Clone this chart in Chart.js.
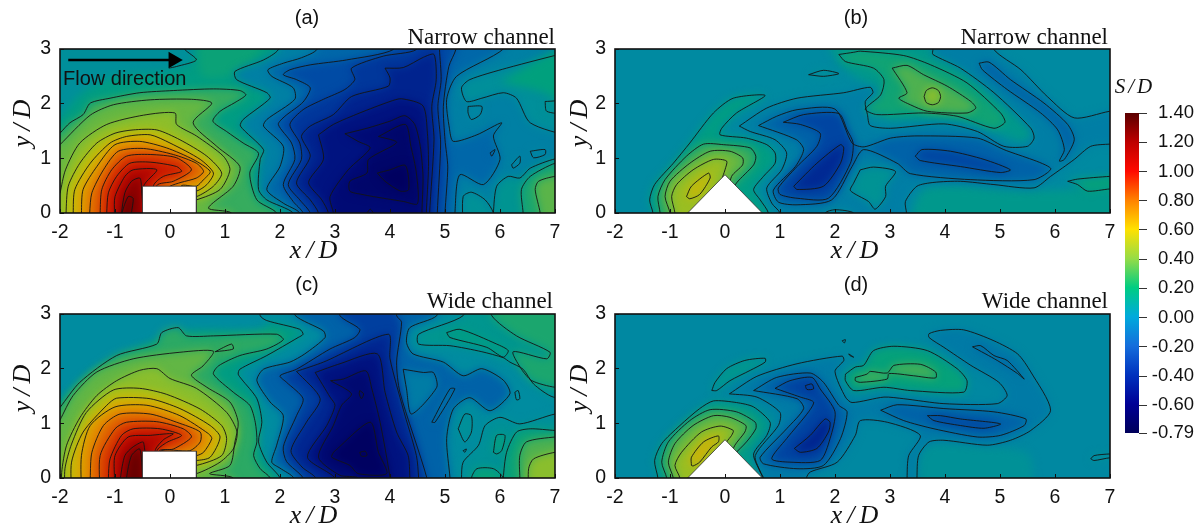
<!DOCTYPE html>
<html>
<head>
<meta charset="utf-8">
<title>S/D contours</title>
<script src="https://cdn.jsdelivr.net/npm/chart.js@4"></script>
<style>
html,body{margin:0;padding:0;background:#fff;width:1200px;height:530px;overflow:hidden}
canvas{position:absolute;display:block}
</style>
</head>
<body>
<canvas id="panelA" width="565" height="265" style="left:0;top:0"></canvas>
<canvas id="panelB" width="555" height="265" style="left:565px;top:0"></canvas>
<canvas id="panelC" width="565" height="265" style="left:0;top:265px"></canvas>
<canvas id="panelD" width="555" height="265" style="left:565px;top:265px"></canvas>
<canvas id="colorBar" width="84" height="400" style="left:1110px;top:60px"></canvas>
<script>
// axis ticks
const xTicks = [-2, -1, 0, 1, 2, 3, 4, 5, 6, 7];
const yTicks = [0, 1, 2, 3];
const barTicks = [1.4, 1.2, 1.0, 0.8, 0.6, 0.4, 0.2, 0, -0.2, -0.4, -0.6, -0.79];

// colour bar as printed
const barValues = [-0.79, -0.6, -0.4, -0.2, 0, 0.2, 0.4, 0.6, 0.8, 1.0, 1.2, 1.4];
const barColors = ['#00005a', '#000096', '#0032be', '#146edc', '#00aadc', '#00cd82', '#96dc46', '#ffe100', '#ff8200', '#ff0a00', '#be0000', '#5a0000'];

// the same map as it looks inside the plots (darker, shaded)
const fieldValues = [-0.79, -0.6, -0.45, -0.3, -0.15, 0, 0.12, 0.25, 0.4, 0.55, 0.68, 0.8, 0.95, 1.1, 1.25, 1.4];
const fieldColors = [[0,0,95],[0,15,125],[0,45,150],[0,75,165],[0,110,170],[0,140,160],[0,160,125],[70,175,85],[130,190,50],[190,190,10],[225,165,0],[225,110,0],[215,55,0],[195,10,0],[150,0,0],[100,0,0]];

// obstacles and arrow
const rectX = [-0.5, -0.5, 0.48, 0.48, -0.5], rectY = [-0.1, 0.49, 0.49, -0.1, -0.1];
const triX = [-0.68, 0, 0.68, -0.68], triY = [0, 0.7, 0, 0];
const arrowX = [-1.85, 0.05], arrowY = [2.8, 2.8];

// panel (a) narrow channel, rectangle
const aShadeV = [0.1, 0.02, 0.14];
const aShades = [
  [-3,-1, 8,-1, 8,4, -3,4],
  [-2.4,3.3, 0.3,3.3, 0.45,2.8, 0,2.6, -1,2.5, -1.6,2.2, -2.4,1.4],
  [0.5,3.3, 1.8,3.3, 1.3,2.6, 0.6,2.5]
];
const aV = [-0.06,-0.18,-0.3,-0.4,-0.5,-0.58,-0.66,-0.72,-0.79,0.02,-0.02,0.04,-0.2,-0.02,-0.02,0.03,0.05,0.17,0.3,
  0.22,0.33,0.43,0.53,0.63,0.73,0.83,0.95,1.05,1.16,1.28,1.39,null,null];
const aPaths = [
  [1.97,3.3, 1.97,2.99, 1.7,2.8, 1.18,2.59, 1.21,2.44, 1.76,2.2, 1.82,2.1, 1.33,1.71, 1.28,1.59, 1.7,1.16, 1.64,0.98, 1.61,0.43, 1.76,0.24, 2.24,0, 2.24,-0.3, 7.4,-0.3, 7.4,3.3],
  [2.67,3.3, 2.67,2.99, 2.39,2.84, 2.06,2.74, 1.78,2.62, 1.85,2.5, 2.24,2.29, 2.27,2.08, 1.76,1.71, 1.7,1.59, 2.06,1.22, 2,0.85, 1.76,0.43, 2.06,0.18, 2.36,0, 2.36,-0.3, 5.18,-0.3, 5.18,0, 5.27,0.7, 5.7,0.52, 6,0.98, 5.88,1.41, 6.03,1.65, 5.58,1.43, 5.15,1.31, 5.08,1.55, 5.03,2.08, 5.21,2.5, 6.06,3, 6.06,3.3],
  [4.06,3.3, 4.06,2.99, 3.21,2.8, 2.55,2.71, 2.18,2.62, 2.06,2.53, 2.3,2.44, 2.55,2.29, 2.42,2.03, 2.09,1.77, 1.97,1.62, 2.21,1.28, 2.27,0.98, 2.06,0.52, 2.24,0.21, 2.42,0, 2.42,-0.3, 5,-0.3, 5,0, 5.05,0.84, 5,1.34, 4.97,1.95, 5.07,2.68, 5.2,3, 5.2,3.3],
  [4.48,3.3, 4.48,2.99, 3.88,2.87, 3.3,2.65, 3.36,2.44, 3.18,2.26, 2.79,2.08, 2.42,1.89, 2.18,1.62, 2.36,1.28, 2.39,0.98, 2.15,0.52, 2.36,0.24, 2.55,0, 2.55,-0.3, 4.86,-0.3, 4.86,0, 4.92,1.28, 4.87,1.95, 4.93,2.44, 4.9,2.99, 4.9,3.3],
  [3.91,2.65, 4.24,2.66, 4.61,2.85, 4.8,2.9, 4.84,2.44, 4.76,1.95, 4.8,1.34, 4.72,0, 4.72,-0.3, 2.7,-0.3, 2.7,0, 2.55,0.24, 2.3,0.55, 2.55,1.04, 2.39,1.4, 2.55,1.59, 2.97,1.8, 3.3,2.13, 3.97,2.32, 4,2.47],
  [2.7,1.43, 2.97,1.62, 3.45,1.83, 4,2.04, 4.21,2.09, 4.6,1.96, 4.68,1.46, 4.7,0.85, 4.66,0, 4.66,-0.3, 2.88,-0.3, 2.88,0, 2.76,0.24, 2.52,0.56, 2.79,0.98],
  [3.18,1.45, 3.58,1.55, 4,1.68, 4.27,1.78, 4.45,1.62, 4.55,1.22, 4.6,0.67, 4.58,0, 4.58,-0.3, 2.97,-0.3, 2.97,0, 2.91,0.3, 3.24,0.79, 3.64,1.19, 3.42,1.31],
  [3.79,1.4, 4.28,1.62, 4.38,1.22, 4.48,0.73, 4.5,0.17, 4.25,0.21, 3.94,0.26, 3.7,0.3, 3.49,0.34, 3.27,0.4, 3.27,0.58, 3.58,0.73, 3.61,0.98, 4.12,1.29],
  [3.77,0.73, 4,0.79, 4.28,0.87, 4.34,0.43, 4.19,0.4, 3.91,0.58],
  [7.3,2.96, 6.12,2.65, 5.45,2.44, 5.3,2.29, 5.39,2.04, 5.67,2.1, 6.06,2.2, 6.3,2.1, 6.55,1.65, 7.3,1.4, 7.6,1.4, 7.6,3.3, 7.3,3.3],
  [5.42,1.95, 5.67,1.95, 5.64,1.8, 5.48,1.71, 5.42,1.83],
  [6.82,2.04, 7.2,2.04, 7.2,1.83, 6.85,1.86],
  [5.82,1.1, 5.91,1.16, 5.85,1.04],
  [6.55,1.13, 6.82,1.16, 6.82,1.07, 6.61,1.01],
  [6.21,0.88, 6.36,1.04, 6.36,0.91, 6.24,0.82],
  [5.33,-0.3, 5.33,0.3, 5.48,0.38, 5.73,0.24, 5.88,0, 5.88,-0.3],
  [5.88,-0.3, 5.88,0, 5.94,0.49, 6.15,0.67, 6.36,0.64, 6.55,0.82, 7,0.99, 7.3,1, 7.3,-0.3],
  [6.42,-0.3, 6.42,0, 6.39,0.43, 6.55,0.67, 7,0.91, 7.3,0.93, 7.3,-0.3],
  [6.73,-0.3, 6.73,0, 6.64,0.43, 6.7,0.58, 7,0.67, 7.3,0.67, 7.3,-0.3],
  [-2,1.46, -1.82,1.65, -1.58,1.8, -1.45,2.01, -1.09,2.1, -0.55,2.2, 0.06,2.24, 0.79,2.27, 1.27,2.24, 1.38,2.16, 1.18,2.02, 0.91,1.86, 0.78,1.68, 1.03,1.49, 1.33,1.28, 1.61,1.09, 1.45,0.73, 1.58,0.24, 1.94,0, 1.94,-0.3, -2.3,-0.3, -2.3,1.46],
  [-2,1.25, -1.45,1.79, -1.03,1.98, -0.36,2.07, 0.39,2.08, 0.76,2.01, 0.42,1.65, 0.85,1.22, 1.27,0.85, 1.15,0.49, 0.7,0.09, 1.12,0, 1.12,-0.3, -2.3,-0.3, -2.3,1.25],
  [-2,0.36, -1.9,0.79, -1.64,1.28, -1.15,1.62, -0.48,1.79, 0.09,1.83, 0.12,1.62, 0.48,1.41, 0.97,1.04, 1.09,0.79, 0.91,0.43, 0.48,0.24, 0.2,0.2, 0.2,-0.3, -2.3,-0.3, -2.3,0.36],
  [-1.89,-0.3, -1.89,0, -1.85,0.49, -1.64,0.91, -1.33,1.28, -1,1.46, -0.67,1.52, -0.24,1.52, 0.18,1.34, 0.67,1.04, 0.94,0.73, 0.79,0.49, 0.48,0.3, 0.2,0.3, 0.2,-0.3],
  [-1.76,-0.3, -1.76,0, -1.73,0.43, -1.45,0.91, -1.09,1.28, -0.79,1.4, -0.36,1.43, 0,1.28, 0.55,0.98, 0.79,0.73, 0.67,0.52, 0.48,0.4, 0.2,0.4, 0.2,-0.3],
  [-1.61,-0.3, -1.61,0, -1.58,0.43, -1.33,0.85, -1,1.25, -0.55,1.31, -0.06,1.19, 0.42,0.98, 0.73,0.76, 0.61,0.61, 0.48,0.49, 0.2,0.49, 0.2,-0.3],
  [-1.46,-0.3, -1.46,0, -1.42,0.37, -1.21,0.79, -0.94,1.13, -0.48,1.18, 0.06,1.07, 0.48,0.91, 0.61,0.76, 0.48,0.64, 0.2,0.56, 0,0.49, -0.1,0.4, -0.1,-0.3],
  [-1.27,-0.3, -1.27,0, -1.24,0.43, -1.06,0.79, -0.79,1.04, -0.36,1.07, 0.12,1.01, 0.39,0.79, 0.06,0.58, -0.24,0.5, -0.24,-0.3],
  [-1.15,-0.3, -1.15,0, -1.12,0.37, -0.97,0.67, -0.73,0.91, -0.36,0.93, 0.12,0.85, 0.21,0.76, -0.12,0.67, -0.3,0.5, -0.3,-0.3],
  [-1.01,-0.3, -1.01,0, -1,0.3, -0.82,0.67, -0.67,0.79, -0.24,0.79, -0.48,0.49, -0.48,-0.3],
  [-0.88,-0.3, -0.88,0, -0.82,0.37, -0.7,0.58, -0.55,0.64, -0.52,0.49, -0.52,-0.3],
  [-0.87,-0.3, -0.87,0, -0.76,0.3, -0.67,0.27, -0.7,0, -0.7,-0.3],
  [0.27,3.05, 0.27,2.99, 0.48,2.8, 0.12,2.68, -0.02,2.65],
  [3.58,0, 3.64,0.07, 3.7,0]
];
const aTintV = [0.12];
const aTints = [[6,2.4, 7.4,3.1, 7.4,1.9, 6.8,2.2]];

// panel (b) narrow channel, triangle
const bShadeV = [-0.01, 0.07, 0.07, 0.07];
const bShades = [
  [-3,-1, 8,-1, 8,4, -3,4],
  [3.3,-0.3, 3.6,0.42, 4.22,0.5, 5.1,0.42, 6.1,0.42, 7.4,0.5, 7.4,-0.3],
  [1.79,3.3, 3.75,3.3, 3.75,2.9, 4.2,2.3, 3,2.2, 2.1,2.7],
  [2.9,1.7, 4.5,1.65, 5.4,1.3, 5.6,1.5, 4.3,2.7, 3.8,3, 2.7,3, 2.9,2.3]
];
const bV = [0.1,-0.07,0.01,0.15,0.27,0.42,0.03,0.22,0.34,0.46,0.58,-0.2,-0.33,-0.47,-0.33,-0.2,0.04,0.13];
const bPaths = [
  [-1.31,-0.3, -1.31,0, -1.37,0.24, -1.28,0.52, -0.94,0.91, -0.64,1.28, -0.21,1.83, 0.15,2.1, 0.73,2.15, 0.21,1.83, -0.06,1.55, -0.09,1.43, 0.39,1.37, 0.76,1.25, 0.91,1.1, 0.91,0.91, 0.7,0.67, 0.52,0.43, 0.64,0.24, 0.79,0, 0.79,-0.3],
  [0.26,1.59, 0.76,1.92, 1.31,2.1, 2.16,2.2, 2.64,2.3, 2.69,2.2, 2.55,2.04, 2.59,1.8, 2.64,1.6, 3.01,1.55, 3.98,1.63, 4.59,1.49, 5.07,1.22, 5.5,1.22, 5.62,1.37, 5.56,1.55, 4.89,2.2, 4.28,2.65, 3.78,2.9, 3.78,2.99, 3.78,3.3, 4.89,3.3, 4.89,2.99, 5.38,2.62, 5.86,2.13, 6.35,1.74, 6.99,1.86, 7.4,1.9, 7.4,1.27, 7,1.26, 6.65,1.22, 6.35,0.98, 5.92,0.67, 5.62,0.46, 4.89,0.52, 4.28,0.58, 3.8,0.56, 3.49,0.49, 3.28,0.21, 3.3,0, 3.3,-0.3, 1,-0.3, 1,0, 0.85,0.18, 0.76,0.46, 1.03,0.79, 1.12,1.1, 0.91,1.34, 0.46,1.49],
  [1.82,-0.2, 1.82,0, 2,0.06, 2.34,0, 2.34,-0.2],
  [2.07,2.9, 2.34,2.94, 2.46,2.96, 3.25,2.88, 3.74,2.71, 4.4,2.38, 5.01,1.83, 5.09,1.66, 4.89,1.55, 4.22,1.77, 3.61,1.83, 2.76,1.8, 2.55,1.9, 2.83,2.16, 2.89,2.44, 2.7,2.65, 2.19,2.77],
  [3.04,2.65, 3.31,2.7, 3.61,2.53, 4.04,2.32, 4.47,2.04, 4.56,1.92, 4.4,1.83, 3.68,1.86, 3.37,1.98, 3.16,2.1, 3.31,2.2],
  [3.62,2.13, 3.66,2.24, 3.77,2.29, 3.88,2.24, 3.92,2.13, 3.88,2.02, 3.77,1.98, 3.66,2.02],
  [1.52,2.53, 1.79,2.61, 2.07,2.55, 1.79,2.5],
  [-1.18,-0.3, -1.18,0, -1.22,0.3, -1.09,0.61, -0.7,1.04, -0.39,1.26, -0.03,1.25, 0.46,1.19, 0.56,1.04, 0.52,0.88, 0.21,0.55, 0,0.2, -0.5,-0.3],
  [-1,-0.3, -1,0, -1.09,0.3, -1,0.58, -0.64,0.91, -0.27,1.13, 0.09,1.13, 0.32,1.01, 0.32,0.88, 0.12,0.67, 0,0.2, -0.5,-0.3],
  [-0.91,-0.3, -0.91,0, -0.97,0.3, -0.88,0.52, -0.58,0.79, -0.21,0.98, 0.03,0.95, 0,0.79, -0.03,0.7, -0.2,0.2, -0.5,-0.3],
  [-0.7,0.3, -0.61,0.49, -0.3,0.73, -0.27,0.64, -0.46,0.34, -0.64,0.26],
  [0.61,1.6, 0.94,1.77, 1.31,1.89, 2,1.9, 2.31,1.28, 2.53,1.21, 3.01,1.37, 3.49,1.41, 4.59,1.37, 5.07,1.16, 5.92,0.82, 5.62,0.61, 4.47,0.61, 3.37,0.72, 3.13,0.91, 2.52,1.16, 2.31,0.85, 1.94,0.24, 1.31,0.15, 0.97,0.2, 0.88,0.42, 1.28,0.85, 1.43,1.16, 1.3,1.34],
  [1.06,1.66, 1.43,1.8, 2.07,1.82, 2.22,1.52, 2.33,1.28, 2.28,0.91, 1.88,0.27, 1.31,0.27, 1,0.34, 0.97,0.46, 1.31,0.85, 1.67,1.22, 1.73,1.46, 1.37,1.62],
  [1.25,0.49, 1.67,0.91, 2.1,1.25, 2.16,1.19, 2.1,0.91, 1.79,0.49, 1.31,0.43],
  [3.46,1.04, 3.58,1.16, 4.1,1.13, 4.71,0.98, 5.19,0.79, 5.01,0.74, 4.28,0.85, 3.55,0.96],
  [4.62,2.74, 4.8,2.76, 5.19,2.44, 5.8,2.01, 6.23,1.62, 6.35,1.34, 6.17,0.98, 6.08,0.95, 6.17,1.16, 6.05,1.52, 5.74,1.83, 5.13,2.26, 4.68,2.62],
  [2.46,0.79, 2.7,0.84, 3.1,0.76, 2.92,0.49, 2.92,0.3, 2.73,0.07, 2.61,0.21, 2.28,0.41, 2.34,0.55],
  [6.23,0.58, 6.41,0.62, 7,0.67, 7.3,0.67, 7.3,0.44, 7,0.44, 6.59,0.4, 6.41,0.52]
];
const bTintV = [];
const bTints = [];

// panel (c) wide channel, rectangle
const cShadeV = [0.1, 0];
const cShades = [
  [-3,-1, 8,-1, 8,4, -3,4],
  [-2.4,3.3, 1.8,3.3, 1.7,2.75, 0.3,2.7, -0.3,2.5, -1.3,2, -2.4,1.2]
];
const cV = [0,-0.2,-0.36,-0.48,-0.58,-0.68,-0.78,null,null,-0.08,-0.1,0.06,0.17,0.1,0.03,0.14,0.13,0.27,0.42,0.13,0.03,null,null,
  0.2,0.32,0.25,0.42,0.52,0.62,0.72,0.82,0.93,1.04,1.15,1.27,1.39];
const cPaths = [
  [1.64,3.3, 1.64,2.97, 1.76,2.88, 2.36,2.72, 2.42,2.63, 2.33,2.57, 1.76,2.24, 1.27,1.99, 1.24,1.9, 1.3,1.81, 1.58,1.45, 1.67,1.02, 1.61,0.66, 1.76,0.29, 2,0, 2,-0.3, 7.4,-0.3, 7.4,3.3],
  [2.27,3.3, 2.27,2.98, 2.79,2.69, 2.82,2.57, 2.45,2.27, 2.18,2.12, 1.7,1.99, 1.58,1.78, 1.82,1.39, 2.06,1.14, 1.94,0.6, 1.85,0.29, 2,0.18, 2.25,0, 2.25,-0.3, 5.09,-0.3, 5.09,0, 5.03,0.72, 5.15,1.26, 5.45,1.47, 5.82,1.23, 6.18,1.54, 6.06,1.79, 5.67,2, 5.33,1.87, 4.97,2.12, 4.42,2.27, 4.3,2.48, 4.36,2.75, 4.85,2.97, 4.85,3.3],
  [3.09,3.3, 3.09,2.97, 3.45,2.72, 3.36,2.57, 2.91,2.36, 2.3,1.99, 2,1.87, 2.12,1.75, 2.42,1.45, 2.3,1.14, 2.06,0.57, 2.12,0.3, 2.42,0, 2.42,-0.3, 4.67,-0.3, 4.67,0, 4.18,1.57, 4.12,2.12, 4.21,2.85, 4.12,2.97, 4.12,3.3],
  [2.3,1.95, 2.79,2.12, 3.97,2.63, 4,2.18, 4.24,1.26, 4.48,0.41, 4.52,0, 4.52,-0.3, 2.65,-0.3, 2.65,0, 2.4,0.2, 2.2,0.5, 2.48,1.02, 2.73,1.45],
  [2.64,1.93, 3.09,2.09, 3.77,2.27, 3.91,1.57, 4.12,0.84, 4.33,0.41, 4.36,0, 4.36,-0.3, 3,-0.3, 3,0, 2.5,0.38, 2.85,0.96, 3,1.33, 2.91,1.48],
  [2.92,1.78, 3.15,1.81, 3.56,1.96, 3.67,1.63, 3.82,1.02, 4,0, 4,-0.3, 3.42,-0.3, 3.42,0, 3.09,0.05, 2.7,0.38, 2.97,0.96, 3.12,1.33, 3.3,1.54],
  [2.97,0.47, 3.64,1.02, 3.79,0.47, 3.94,0.08, 3.42,0.08, 3.27,0.23, 2.94,0.38],
  [3.45,1.6, 3.52,1.54, 3.48,1.45, 3.44,1.54, 3.45,1.6],
  [3.45,0.47, 3.55,0.49, 3.58,0.41, 3.48,0.4, 3.45,0.47],
  [4.24,1.99, 4.61,1.93, 4.79,1.93, 4.85,1.66, 4.39,1.17, 4.3,1.63],
  [4.76,1.02, 5.09,1.63, 5.18,1.63, 4.82,1.02],
  [5.33,3.3, 5.33,2.97, 4.52,2.63, 4.52,2.45, 5.09,2.42, 5.67,2.31, 6.06,2.2, 6.18,2.12, 6.42,1.99, 6.61,1.72, 6.97,1.48, 7.5,1.48, 7.5,3.3],
  [5.85,3.3, 5.85,2.97, 6.3,2.6, 6.91,2.3, 6.85,2.18, 6.24,2.31, 6.39,1.99, 6.58,1.78, 7,1.66, 7.5,1.66, 7.5,3.3],
  [5.03,2.66, 5.27,2.72, 5.94,2.45, 6.15,2.33, 6.06,2.21, 5.76,2.39, 5.09,2.57],
  [5.3,-0.3, 5.3,0, 5.33,0.29, 5.61,0.6, 5.73,0.96, 6,1.11, 6.36,0.99, 7,1.17, 7.3,1.17, 7.3,-0.3],
  [6.06,-0.3, 6.06,0, 6.12,0.47, 6.3,0.84, 6.55,0.9, 7,0.87, 7.3,0.87, 7.3,-0.3],
  [5.48,-0.3, 5.48,0, 5.58,0.17, 5.88,0.17, 6.06,0, 6.06,-0.3],
  [6.36,-0.3, 6.36,0, 6.36,0.41, 6.48,0.66, 7,0.75, 7.3,0.75, 7.3,-0.3],
  [6.52,-0.3, 6.52,0.17, 6.61,0.35, 7,0.47, 7.3,0.47, 7.3,-0.3],
  [5.88,0.47, 5.94,0.78, 6.09,0.78, 6.03,0.5, 5.94,0.44],
  [5.24,0.9, 5.36,1.17, 5.48,1.14, 5.48,0.84, 5.36,0.66],
  [5.33,0.5, 5.39,0.53, 5.36,0.47, 5.33,0.5],
  [6.27,1.57, 6.33,1.6, 6.36,1.45, 6.3,1.43, 6.27,1.57],
  [-2,1.29, -1.64,1.75, -0.97,2.24, -0.24,2.45, -0.15,2.66, 0.15,2.75, 0.3,2.6, 0.79,2.6, 1.94,2.63, 2.06,2.53, 1.76,2.36, 1.27,2.24, 0.88,2.05, 0.79,1.9, 1.15,1.57, 1.45,1.33, 1.55,1.02, 1.58,0.66, 1.52,0.41, 1.64,0.17, 1.82,0, 1.82,-0.3, -2.3,-0.3, -2.3,1.29],
  [-2,1.06, -1.76,1.51, -1.33,1.94, -0.67,2.18, 0.18,2.3, 0.79,2.32, 0.6,2.05, 0.39,1.88, 0.67,1.66, 1.09,1.39, 1.24,1.02, 1.18,0.66, 1.09,0.23, 0.72,0.08, 1.15,0, 1.15,-0.3, -2.3,-0.3, -2.3,1.06],
  [0.82,2.31, 1.12,2.45, 1.15,2.36],
  [-1.97,-0.3, -1.97,0.1, -1.88,0.6, -1.64,1.1, -1.33,1.51, -0.97,1.78, -0.55,1.97, -0.24,2, 0,1.82, 0.48,1.64, 1.03,1.2, 1.22,0.84, 1.15,0.53, 0.91,0.29, 0.48,0.08, 0.2,0.08, 0.2,-0.3],
  [-1.91,-0.3, -1.91,0.17, -1.79,0.62, -1.52,1.2, -1.03,1.61, -0.55,1.64, -0.06,1.53, 0.55,1.26, 0.94,0.96, 1.03,0.72, 0.94,0.41, 0.48,0.23, 0.2,0.23, 0.2,-0.3],
  [-1.79,-0.3, -1.79,0.29, -1.58,0.84, -1.15,1.33, -0.97,1.46, -0.36,1.45, 0.18,1.27, 0.73,0.96, 0.91,0.75, 0.73,0.38, 0.48,0.32, 0.2,0.32, 0.2,-0.3],
  [-1.61,-0.3, -1.61,0.41, -1.45,0.96, -1,1.3, -0.42,1.33, 0.18,1.14, 0.7,0.81, 0.76,0.72, 0.61,0.47, 0.48,0.41, 0.2,0.41, 0.2,-0.3],
  [-1.45,-0.3, -1.45,0, -1.42,0.47, -1.21,0.96, -0.91,1.17, -0.36,1.17, 0.12,1.02, 0.55,0.84, 0.55,0.66, 0.36,0.5, -0.18,0.48, -0.2,-0.3],
  [-1.27,-0.3, -1.27,0.41, -1,0.9, -0.79,1.02, -0.24,1.03, 0.24,0.9, 0.39,0.75, 0.06,0.53, -0.2,0.49, -0.2,-0.3],
  [-1.12,-0.3, -1.12,0, -1.09,0.35, -0.88,0.78, -0.67,0.9, -0.18,0.9, 0.21,0.78, -0.06,0.65, -0.24,0.49, -0.24,-0.3],
  [-1.01,-0.3, -1.01,0, -1,0.41, -0.76,0.75, -0.36,0.78, 0.06,0.81, -0.12,0.7, -0.27,0.5, -0.27,-0.3],
  [-0.9,-0.3, -0.9,0, -0.82,0.41, -0.67,0.57, -0.48,0.65, -0.48,-0.3],
  [-0.79,-0.3, -0.79,0, -0.7,0.41, -0.55,0.53, -0.5,0, -0.5,-0.3]
];
const cTintV = [];
const cTints = [];

// panel (d) wide channel, triangle
const dShadeV = [-0.02, 0.03];
const dShades = [
  [-3,-1, 8,-1, 8,4, -3,4],
  [3.2,-0.3, 3.6,0.6, 5.5,0.45, 5.5,-0.3]
];
const dV = [0.08,0.07,-0.09,0.2,0.33,0.46,0.62,-0.2,-0.34,-0.5,-0.42,-0.2,-0.36,-0.2,null,null,0.13,0.25,0.03];
const dPaths = [
  [-1.22,-0.3, -1.22,0, -1.28,0.32, -1.15,0.63, -0.82,0.96, -0.46,1.27, -0.21,1.41, 0.21,1.38, 0.52,1.3, 0.82,1.02, 0.76,0.78, 0.52,0.44, 0.64,0.11, 0.7,0, 0.7,-0.3],
  [-0.24,1.6, -0.18,1.75, 0.03,2, 0.36,2.15, 0.73,2.19, 0.73,2.12, 0.46,1.97, 0.09,1.78, -0.15,1.6],
  [0.08,1.54, 0.58,1.86, 1.31,2.09, 2.13,2.23, 2.16,2.15, 2,1.95, 2.19,1.48, 2.31,1.38, 2.89,1.48, 3.25,1.45, 3.98,1.36, 4.95,1.36, 5.13,1.51, 4.98,1.75, 4.47,2.06, 3.98,2.39, 3.71,2.57, 3.71,2.64, 3.92,2.7, 4.34,2.71, 4.89,2.51, 5.32,2.27, 5.56,1.94, 5.92,1.24, 5.56,0.87, 5.19,0.69, 4.77,0.6, 3.98,0.69, 3.71,0.66, 3.52,0.41, 3.49,0, 3.49,-0.3, 3.31,-0.3, 3.31,0, 3.34,0.41, 3.55,0.78, 2.95,1.02, 2.46,1.05, 2.37,0.78, 2.04,0.29, 1.55,0.11, 1.48,0, 1.48,-0.3, 0.76,-0.3, 0.67,0.05, 0.55,0.41, 0.97,0.96, 1,1.2, 0.58,1.48],
  [-1.06,-0.3, -1.06,0, -1.15,0.29, -1.03,0.66, -0.64,1.05, -0.27,1.25, 0.21,1.21, 0.55,1.02, 0.56,0.9, 0.39,0.66, 0.15,0.41, 0,0.2, -0.5,-0.3],
  [-0.94,-0.3, -0.94,0, -1.03,0.29, -0.91,0.63, -0.58,0.96, -0.21,1.14, 0.09,1.11, 0.38,0.96, 0.36,0.84, 0.18,0.6, 0,0.2, -0.5,-0.3],
  [-0.82,-0.3, -0.82,0, -0.91,0.23, -0.79,0.47, -0.43,0.84, -0.09,0.95, 0.15,0.87, 0.12,0.78, 0.03,0.66, -0.2,0.2, -0.5,-0.3],
  [-0.61,0.23, -0.61,0.38, -0.39,0.66, -0.12,0.77, -0.12,0.66, -0.24,0.57, -0.46,0.29, -0.58,0.22],
  [0.52,1.6, 0.94,1.84, 1.55,1.92, 1.79,1.75, 2.07,1.33, 2.22,1.21, 2.1,0.72, 1.79,0.23, 1.31,0.17, 0.7,0.26, 0.64,0.38, 1.12,0.9, 1.43,1.27, 1.31,1.45],
  [0.91,1.64, 1.18,1.78, 1.58,1.84, 1.73,1.63, 2,1.21, 1.91,0.72, 1.73,0.32, 1.18,0.29, 0.85,0.35, 1.12,0.72, 1.52,1.21, 1.61,1.39, 1.37,1.48],
  [1.26,0.54, 1.55,0.78, 1.82,1.08, 1.91,1.02, 1.88,0.84, 1.67,0.54, 1.37,0.47],
  [1.46,1.69, 1.58,1.72, 1.61,1.63, 1.49,1.62],
  [2.83,1.24, 3.13,1.34, 3.98,1.27, 4.89,1.21, 5.47,1.08, 5.44,0.96, 5.01,0.78, 4.59,0.75, 3.8,0.9, 3.25,1.05],
  [3.68,1.14, 3.92,1.14, 4.28,1.08, 5.01,0.99, 4.71,0.91, 4.28,0.96, 3.8,1.05],
  [4.5,2.4, 4.65,2.42, 4.89,2.24, 5.13,2.15, 5.44,1.81, 5.32,1.91, 4.95,2.15],
  [2.13,2.51, 2.19,2.53, 2.17,2.47, 2.13,2.51],
  [2.25,2.27, 2.34,2.21, 2.27,2.24, 2.25,2.27],
  [2.19,1.9, 2.37,2.03, 2.52,2.06, 2.7,2.33, 3.07,2.41, 3.68,2.33, 4.22,2, 4.4,1.78, 4.34,1.57, 3.37,1.6, 2.89,1.66, 2.34,1.6, 2.19,1.78],
  [2.37,1.84, 2.58,1.9, 2.64,1.95, 2.95,1.92, 3.07,2.06, 3.55,2.08, 3.83,1.94, 3.83,1.83, 3.43,1.87, 2.98,1.91, 2.95,1.81, 2.46,1.75, 2.37,1.78],
  [6.65,0.35, 6.71,0.41, 7,0.44, 7.3,0.44, 7.3,0.37, 7,0.37, 6.71,0.32]
];
const dTintV = [];
const dTints = [];

const sansFont = '"Liberation Sans", Arial, sans-serif';
const serifFont = '"Liberation Serif", "Times New Roman", serif';
const ink = '#111';

function fieldColor(v) {
  let i = 0;
  while (i < fieldValues.length - 2 && v > fieldValues[i + 1]) i++;
  const t = Math.min(1, Math.max(0, (v - fieldValues[i]) / (fieldValues[i + 1] - fieldValues[i])));
  const c = fieldColors[i].map((a, k) => Math.round(a + (fieldColors[i + 1][k] - a) * t));
  return `rgb(${c[0]},${c[1]},${c[2]})`;
}

function toPoints(flat, closed) {
  const pts = [];
  for (let i = 0; i < flat.length; i += 2) pts.push({x: flat[i], y: flat[i + 1]});
  if (closed) pts.push(pts[0]);
  return pts;
}

function fillSet(flat, v) {
  return {data: toPoints(flat, true), showLine: true, fill: 'shape', backgroundColor: fieldColor(v),
    borderWidth: 0, pointRadius: 0, tension: 0.25, isFill: true};
}
function lineSet(flat, closed) {
  return {data: toPoints(flat, closed), showLine: true, fill: false, borderColor: '#141414',
    borderWidth: 0.9, pointRadius: 0, tension: 0.25, clip: 0};
}

// draws all labels that the axes do not place themselves
function textPlugin(items) {
  return {
    id: 'texts',
    afterDraw(chart) {
      const ctx = chart.ctx;
      for (const t of items) {
        ctx.save();
        ctx.translate(t.x, t.y);
        if (t.rot) ctx.rotate(t.rot);
        ctx.font = t.font;
        ctx.fillStyle = ink;
        ctx.textAlign = t.align || 'center';
        ctx.textBaseline = 'alphabetic';
        if (t.gap) ctx.letterSpacing = t.gap;
        ctx.fillText(t.text, 0, 0);
        ctx.restore();
      }
    }
  };
}

// soft shading under the contour lines: only the fills go through the blur
const blurPlugin = {
  id: 'blurFills',
  beforeDatasetsDraw(chart) { chart.ctx.filter = 'blur(4px)'; },
  afterDatasetDraw(chart, args) {
    if (args.index === chart.config.data.firstFillIndex) chart.ctx.filter = 'none';
  },
  afterDatasetsDraw(chart) { chart.ctx.filter = 'none'; }
};

const framePlugin = {
  id: 'frame',
  afterDatasetsDraw(chart) {
    const a = chart.chartArea, ctx = chart.ctx;
    ctx.save();
    ctx.strokeStyle = ink;
    ctx.lineWidth = 1.6;
    ctx.strokeRect(a.left, a.top, a.right - a.left, a.bottom - a.top);
    ctx.restore();
  }
};

function makePanel(id, plotLeft, shapeX, shapeY, shadeV, shades, vals, paths, tintV, tints, arrow, texts) {
  const top = [];
  if (arrow) {
    top.push({data: [{x: 0.06, y: arrowY[0]}], pointStyle: 'triangle', rotation: 90, pointRadius: 9.5,
      backgroundColor: '#000', borderWidth: 0, showLine: false});
    top.push({data: toPoints([arrowX[0], arrowY[0], arrowX[1], arrowY[1]]), showLine: true, borderColor: '#000',
      borderWidth: 2.6, pointRadius: 0, fill: false});
  }
  const pts = [];
  shapeX.forEach((x, i) => pts.push(x, shapeY[i]));
  top.push({data: toPoints(pts), showLine: true, fill: 'shape', backgroundColor: '#fff', borderColor: '#333',
    borderWidth: 0.8, pointRadius: 0, tension: 0, clip: 0});
  paths.forEach((p, i) => top.push(lineSet(p, vals[i] !== null)));
  const fills = [];
  shades.forEach((p, i) => fills.push(fillSet(p, shadeV[i])));
  paths.forEach((p, i) => { if (vals[i] !== null) fills.push(fillSet(p, vals[i])); });
  tints.forEach((p, i) => fills.push(fillSet(p, tintV[i])));
  fills.reverse();   // first dataset ends up on top
  const datasets = top.concat(fills);

  return new Chart(document.getElementById(id), {
    type: 'scatter',
    data: {datasets, firstFillIndex: top.length},
    options: {
      responsive: false, animation: false, events: [],
      layout: {padding: {top: 49, right: 10, bottom: 0, left: 0}},
      plugins: {legend: {display: false}, tooltip: {enabled: false}},
      scales: {
        x: {
          type: 'linear', min: -2, max: 7,
          afterBuildTicks: s => { s.ticks = xTicks.map(v => ({value: v})); },
          afterFit: s => { s.height = 52; s.paddingLeft = 0; s.paddingRight = 0; },
          grid: {drawOnChartArea: false, tickLength: -4, tickColor: ink, z: 1},
          border: {display: false},
          ticks: {font: {family: sansFont, size: 19.5}, color: ink, padding: 12, maxRotation: 0, autoSkip: false}
        },
        y: {
          type: 'linear', min: 0, max: 3,
          afterBuildTicks: s => { s.ticks = yTicks.map(v => ({value: v})); },
          afterFit: s => { s.width = plotLeft; s.paddingTop = 0; s.paddingBottom = 0; },
          grid: {drawOnChartArea: false, tickLength: -4, tickColor: ink, z: 1},
          border: {display: false},
          ticks: {font: {family: sansFont, size: 19.5}, color: ink, padding: 13, autoSkip: false}
        }
      }
    },
    plugins: [blurPlugin, framePlugin, textPlugin(texts)]
  });
}

const axisFont = 'italic 26px ' + serifFont;
const noteFont = '23px ' + serifFont;
const capFont = '20px ' + sansFont;
const quarter = -Math.PI / 2;

makePanel('panelA', 60, rectX, rectY, aShadeV, aShades, aV, aPaths, aTintV, aTints, true, [
  {text: '(a)', x: 307, y: 24, font: capFont},
  {text: 'Narrow channel', x: 555, y: 44, font: noteFont, align: 'right'},
  {text: 'x/D', x: 316, y: 258, font: axisFont, gap: '5px'},
  {text: 'y/D', x: 30, y: 121, font: axisFont, rot: quarter, gap: '5px'},
  {text: 'Flow direction', x: 63, y: 85, font: '20px ' + sansFont, align: 'left'}
]);
makePanel('panelB', 50, triX, triY, bShadeV, bShades, bV, bPaths, bTintV, bTints, false, [
  {text: '(b)', x: 291, y: 24, font: capFont},
  {text: 'Narrow channel', x: 543, y: 44, font: noteFont, align: 'right'},
  {text: 'x/D', x: 292, y: 258, font: axisFont, gap: '5px'},
  {text: 'y/D', x: 22, y: 121, font: axisFont, rot: quarter, gap: '5px'}
]);
makePanel('panelC', 60, rectX, rectY, cShadeV, cShades, cV, cPaths, cTintV, cTints, false, [
  {text: '(c)', x: 307, y: 26, font: capFont},
  {text: 'Wide channel', x: 553, y: 43, font: noteFont, align: 'right'},
  {text: 'x/D', x: 316, y: 258, font: axisFont, gap: '5px'},
  {text: 'y/D', x: 30, y: 121, font: axisFont, rot: quarter, gap: '5px'}
]);
makePanel('panelD', 50, triX, triY, dShadeV, dShades, dV, dPaths, dTintV, dTints, false, [
  {text: '(d)', x: 291, y: 26, font: capFont},
  {text: 'Wide channel', x: 543, y: 43, font: noteFont, align: 'right'},
  {text: 'x/D', x: 292, y: 258, font: axisFont, gap: '5px'},
  {text: 'y/D', x: 22, y: 121, font: axisFont, rot: quarter, gap: '5px'}
]);

// colour bar: one floating bar painted with the printed gradient
new Chart(document.getElementById('colorBar'), {
  type: 'bar',
  data: {
    labels: ['S/D'],
    datasets: [{
      data: [[barValues[0], barValues[barValues.length - 1]]],
      barPercentage: 1, categoryPercentage: 1, borderWidth: 0,
      backgroundColor: c => {
        const y = c.chart.scales.y;
        if (!y || !c.chart.chartArea) return '#000';
        const g = c.chart.ctx.createLinearGradient(0, y.getPixelForValue(barValues[0]), 0, y.getPixelForValue(barValues[barValues.length - 1]));
        barValues.forEach((v, i) => g.addColorStop(i / (barValues.length - 1), barColors[i]));
        return g;
      }
    }]
  },
  options: {
    responsive: false, animation: false, events: [],
    layout: {padding: {top: 53, right: 0, bottom: 27, left: 15}},
    plugins: {legend: {display: false}, tooltip: {enabled: false}},
    scales: {
      x: {display: false},
      y: {
        position: 'right', min: -0.79, max: 1.4,
        afterBuildTicks: s => { s.ticks = barTicks.map(v => ({value: v})); },
        afterFit: s => { s.width = 55; },
        grid: {drawOnChartArea: false, tickLength: 8, tickColor: '#333', z: 1},
        border: {display: false},
        ticks: {font: {family: sansFont, size: 18.5}, color: ink, autoSkip: false, padding: 6, crossAlign: 'far',
          callback: v => v.toFixed(2)}
      }
    }
  },
  plugins: [textPlugin([{text: 'S/D', x: 25, y: 33, font: 'italic 21px ' + serifFont, gap: '3px'}])]
});
</script>
</body>
</html>
